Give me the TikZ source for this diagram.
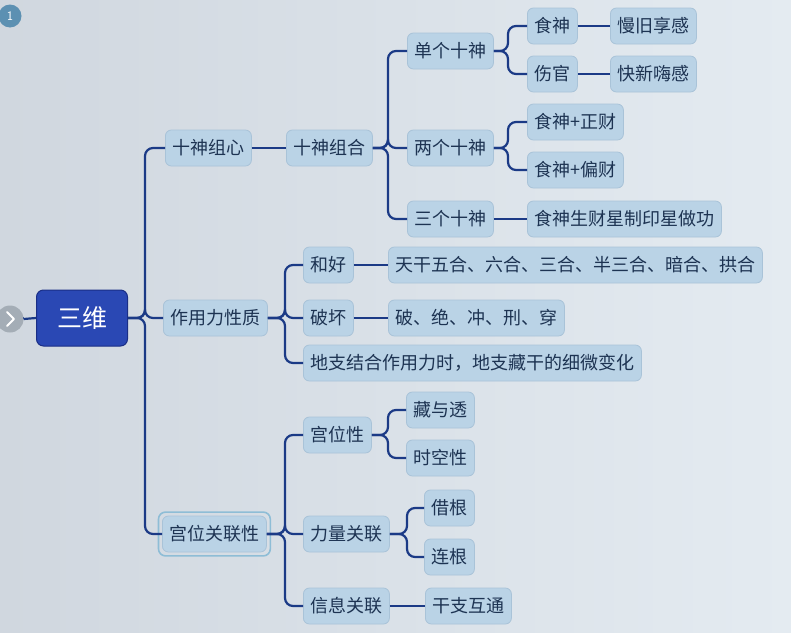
\documentclass[tikz,border=0pt]{standalone}
\usepackage{fontspec}
\newfontfamily\cjk{Noto Sans CJK SC}
\definecolor{bgleft}{HTML}{D0D7DF}
\definecolor{bgright}{HTML}{E4EBF1}
\definecolor{nodefill}{HTML}{BAD3E6}
\definecolor{nodeborder}{HTML}{A9C3D8}
\definecolor{nodetext}{HTML}{1D3352}
\definecolor{linecol}{HTML}{1B3A86}
\definecolor{rootfill}{HTML}{2A48B4}
\definecolor{rootborder}{HTML}{1A2E86}
\definecolor{selcol}{HTML}{8EBDD6}
\definecolor{badge}{HTML}{5C90B2}
\definecolor{handle}{HTML}{A4ADB6}
\begin{document}
\begin{tikzpicture}[x=1pt,y=-1pt,
  box/.style={draw=nodeborder, fill=nodefill, rounded corners=6pt, minimum height=36pt,
    inner xsep=7pt, inner ysep=0pt, font=\cjk\fontsize{18}{18}\selectfont, text=nodetext,
    anchor=west, line width=0.8pt},
  rootbox/.style={draw=rootborder, fill=rootfill, rounded corners=7pt, minimum width=91pt,
    minimum height=56pt, font=\cjk\fontsize{25}{25}\selectfont, text=white, line width=1pt},
  conn/.style={draw=linecol, line width=2.2pt, rounded corners=8pt}]
\useasboundingbox (0,0) rectangle (791,632);
\shade[left color=bgleft, right color=bgright] (0,0) rectangle (791,632);

% badge and collapse handle
\node[circle, fill=badge, minimum size=23pt, inner sep=0pt, text=white,
  font=\sffamily\fontsize{13}{13}\selectfont] (badge) at (10,16) {1};
\coordinate (lend) at (0,318);
\draw[conn] (lend) -- (24,318);
\node[circle, fill=handle, minimum size=27pt, inner sep=0pt] (handle) at (10,319) {};
\draw[white, line width=1.8pt, line cap=round, line join=round] (7,312) -- (14,319) -- (7,326);

% nodes
\node[rootbox] (root) at (82,318) {三维};

\node[box] (A1) at (165,148) {十神组心};
\node[box] (A2) at (286,148) {十神组合};
\node[box] (B1) at (407,51) {单个十神};
\node[box] (B2) at (407,148) {两个十神};
\node[box] (B3) at (407,219) {三个十神};
\node[box] (C1) at (527,26) {食神};
\node[box] (C2) at (527,74) {伤官};
\node[box] (D1) at (610,26) {慢旧享感};
\node[box] (D2) at (610,74) {快新嗨感};
\node[box] (C3) at (527,122) {食神+正财};
\node[box] (C4) at (527,170) {食神+偏财};
\node[box] (C5) at (527,219) {食神生财星制印星做功};

\node[box] (E) at (163,318) {作用力性质};
\node[box] (E1) at (303,265) {和好};
\node[box] (E2) at (303,318) {破坏};
\node[box] (E3) at (303,363) {地支结合作用力时，地支藏干的细微变化};
\node[box] (E1a) at (388,265) {天干五合、六合、三合、半三合、暗合、拱合};
\node[box] (E2a) at (388,318) {破、绝、冲、刑、穿};

\node[box] (F) at (162,534) {宫位关联性};
\draw[draw=selcol, line width=1.6pt, rounded corners=7pt]
  ([xshift=-3.5pt,yshift=-3.5pt]F.south west) rectangle ([xshift=3.5pt,yshift=3.5pt]F.north east);
\node[box] (F1) at (303,435) {宫位性};
\node[box] (F2) at (303,534) {力量关联};
\node[box] (F3) at (303,606) {信息关联};
\node[box] (G1) at (406,410) {藏与透};
\node[box] (G2) at (406,458) {时空性};
\node[box] (H1) at (424,508) {借根};
\node[box] (H2) at (424,557) {连根};
\node[box] (I1) at (425,606) {干支互通};

% trunk x positions
\coordinate (t0) at (145,0);
\coordinate (t1) at (388,0);
\coordinate (t2) at (508,0);
\coordinate (t3) at (285,0);
\coordinate (t4) at (388,0);
\coordinate (t5) at (407,0);

% connectors
\draw[conn] (handle.east) -- (root.west);
\foreach \c in {A1,E,F} \draw[conn] (root.east) -- (root.east -| t0) |- (\c.west);
\draw[conn] (A1.east) -- (A2.west);
\foreach \c in {B1,B2,B3} \draw[conn] (A2.east) -- (A2.east -| t1) |- (\c.west);
\foreach \c in {C1,C2} \draw[conn] (B1.east) -- (B1.east -| t2) |- (\c.west);
\draw[conn] (C1.east) -- (D1.west);
\draw[conn] (C2.east) -- (D2.west);
\foreach \c in {C3,C4} \draw[conn] (B2.east) -- (B2.east -| t2) |- (\c.west);
\draw[conn] (B3.east) -- (C5.west);
\foreach \c in {E1,E2,E3} \draw[conn] (E.east) -- (E.east -| t3) |- (\c.west);
\draw[conn] (E1.east) -- (E1a.west);
\draw[conn] (E2.east) -- (E2a.west);
\foreach \c in {F1,F2,F3} \draw[conn] (F.east) -- (F.east -| t3) |- (\c.west);
\foreach \c in {G1,G2} \draw[conn] (F1.east) -- (F1.east -| t4) |- (\c.west);
\foreach \c in {H1,H2} \draw[conn] (F2.east) -- (F2.east -| t5) |- (\c.west);
\draw[conn] (F3.east) -- (I1.west);
\end{tikzpicture}
\end{document}
